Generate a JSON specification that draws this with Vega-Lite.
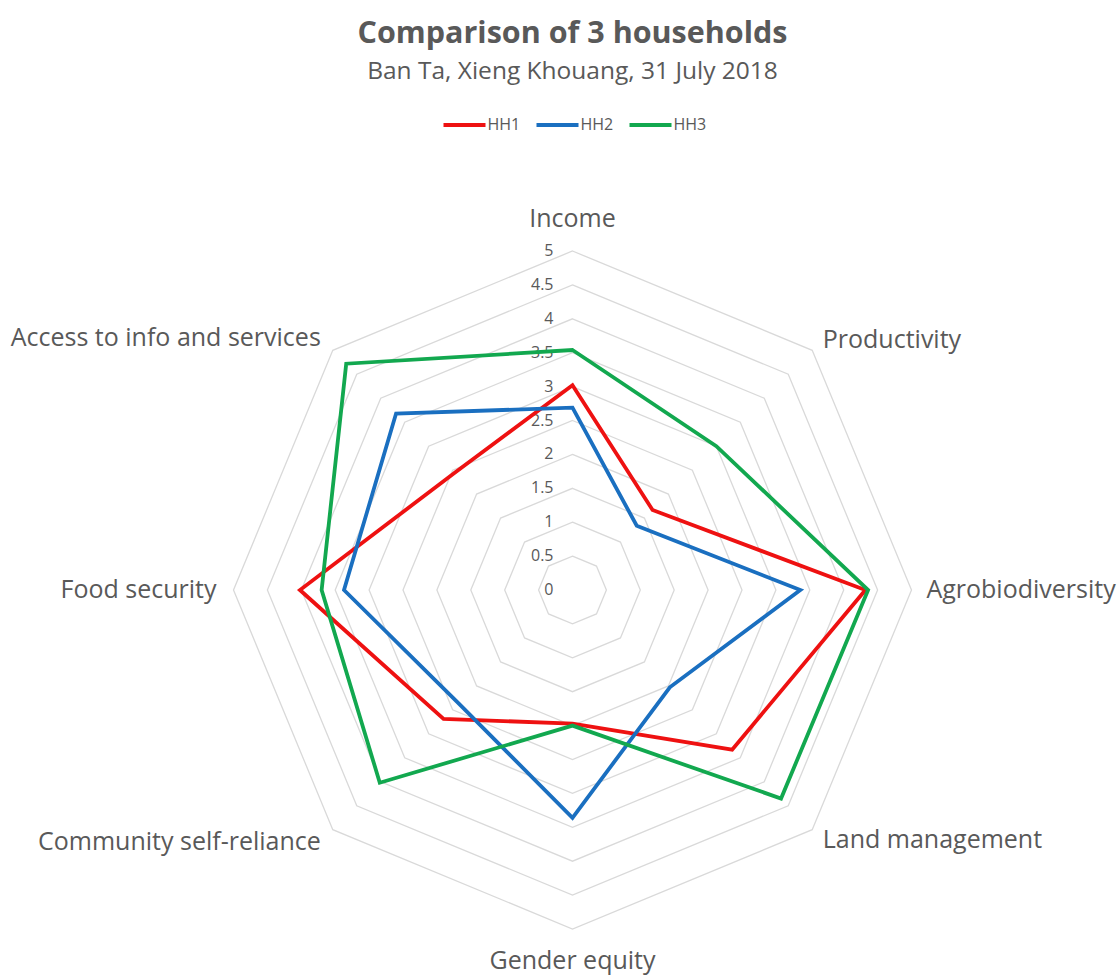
{
  "$schema": "https://vega.github.io/schema/vega-lite/v6.json",
  "width": 678,
  "height": 678,
  "autosize": {"type": "none"},
  "padding": {"left": 233.5, "top": 251, "right": 207.5, "bottom": 47},
  "background": "white",
  "config": {"view": {"stroke": null}, "font": "Open Sans"},
  "title": {
    "text": "Comparison of 3 households",
    "subtitle": "Ban Ta, Xieng Khouang, 31 July 2018",
    "font": "Open Sans",
    "subtitleFont": "Open Sans",
    "fontSize": 30.5,
    "fontWeight": "bold",
    "color": "#595959",
    "subtitleFontSize": 24.5,
    "subtitleColor": "#595959",
    "subtitlePadding": 10.5,
    "anchor": "middle",
    "frame": "group",
    "offset": 18.5
  },
  "datasets": {
    "scores": [
      {"household": "HH1", "category": "Income", "idx": 0, "value": 3.02},
      {"household": "HH1", "category": "Productivity", "idx": 1, "value": 1.67},
      {"household": "HH1", "category": "Agrobiodiversity", "idx": 2, "value": 4.32},
      {"household": "HH1", "category": "Land management", "idx": 3, "value": 3.33},
      {"household": "HH1", "category": "Gender equity", "idx": 4, "value": 1.97},
      {"household": "HH1", "category": "Community self-reliance", "idx": 5, "value": 2.69},
      {"household": "HH1", "category": "Food security", "idx": 6, "value": 4.02},
      {"household": "HH1", "category": "Access to info and services", "idx": 7, "value": 2.45},
      {"household": "HH2", "category": "Income", "idx": 0, "value": 2.69},
      {"household": "HH2", "category": "Productivity", "idx": 1, "value": 1.34},
      {"household": "HH2", "category": "Agrobiodiversity", "idx": 2, "value": 3.36},
      {"household": "HH2", "category": "Land management", "idx": 3, "value": 2.03},
      {"household": "HH2", "category": "Gender equity", "idx": 4, "value": 3.36},
      {"household": "HH2", "category": "Community self-reliance", "idx": 5, "value": 2.37},
      {"household": "HH2", "category": "Food security", "idx": 6, "value": 3.37},
      {"household": "HH2", "category": "Access to info and services", "idx": 7, "value": 3.68},
      {"household": "HH3", "category": "Income", "idx": 0, "value": 3.54},
      {"household": "HH3", "category": "Productivity", "idx": 1, "value": 3.0},
      {"household": "HH3", "category": "Agrobiodiversity", "idx": 2, "value": 4.36},
      {"household": "HH3", "category": "Land management", "idx": 3, "value": 4.35},
      {"household": "HH3", "category": "Gender equity", "idx": 4, "value": 2.0},
      {"household": "HH3", "category": "Community self-reliance", "idx": 5, "value": 4.02},
      {"household": "HH3", "category": "Food security", "idx": 6, "value": 3.7},
      {"household": "HH3", "category": "Access to info and services", "idx": 7, "value": 4.72}
    ],
    "rings": [
      {"ring": 0, "k": [0, 1, 2, 3, 4, 5, 6, 7]},
      {"ring": 0.5, "k": [0, 1, 2, 3, 4, 5, 6, 7]},
      {"ring": 1, "k": [0, 1, 2, 3, 4, 5, 6, 7]},
      {"ring": 1.5, "k": [0, 1, 2, 3, 4, 5, 6, 7]},
      {"ring": 2, "k": [0, 1, 2, 3, 4, 5, 6, 7]},
      {"ring": 2.5, "k": [0, 1, 2, 3, 4, 5, 6, 7]},
      {"ring": 3, "k": [0, 1, 2, 3, 4, 5, 6, 7]},
      {"ring": 3.5, "k": [0, 1, 2, 3, 4, 5, 6, 7]},
      {"ring": 4, "k": [0, 1, 2, 3, 4, 5, 6, 7]},
      {"ring": 4.5, "k": [0, 1, 2, 3, 4, 5, 6, 7]},
      {"ring": 5, "k": [0, 1, 2, 3, 4, 5, 6, 7]}
    ],
    "categories": [
      {"category": "Income", "idx": 0},
      {"category": "Productivity", "idx": 1},
      {"category": "Agrobiodiversity", "idx": 2},
      {"category": "Land management", "idx": 3},
      {"category": "Gender equity", "idx": 4},
      {"category": "Community self-reliance", "idx": 5},
      {"category": "Food security", "idx": 6},
      {"category": "Access to info and services", "idx": 7}
    ]
  },
  "layer": [
    {
      "data": {"name": "rings"},
      "transform": [
        {"filter": "datum.ring > 0"},
        {"flatten": ["k"]},
        {"calculate": "datum.ring * sin(datum.k * PI / 4)", "as": "px"},
        {"calculate": "datum.ring * cos(datum.k * PI / 4)", "as": "py"}
      ],
      "mark": {"type": "line", "interpolate": "linear-closed", "stroke": "#d9d9d9", "strokeWidth": 1.3},
      "encoding": {
        "x": {"field": "px", "type": "quantitative", "scale": {"domain": [-5, 5], "nice": false, "zero": false}, "axis": null},
        "y": {"field": "py", "type": "quantitative", "scale": {"domain": [-5, 5], "nice": false, "zero": false}, "axis": null},
        "detail": {"field": "ring"},
        "order": {"field": "k"}
      }
    },
    {
      "data": {"name": "rings"},
      "transform": [
        {"calculate": "0", "as": "px"}
      ],
      "mark": {"type": "text", "align": "right", "baseline": "middle", "dx": -19, "fontSize": 16, "color": "#595959"},
      "encoding": {
        "x": {"field": "px", "type": "quantitative"},
        "y": {"field": "ring", "type": "quantitative"},
        "text": {"field": "ring", "type": "quantitative"}
      }
    },
    {
      "data": {"name": "scores"},
      "transform": [
        {"calculate": "datum.value * sin(datum.idx * PI / 4)", "as": "px"},
        {"calculate": "datum.value * cos(datum.idx * PI / 4)", "as": "py"}
      ],
      "mark": {"type": "line", "interpolate": "linear-closed", "strokeWidth": 3.8, "strokeJoin": "miter"},
      "encoding": {
        "x": {"field": "px", "type": "quantitative"},
        "y": {"field": "py", "type": "quantitative"},
        "order": {"field": "idx"},
        "color": {
          "field": "household",
          "type": "nominal",
          "scale": {"domain": ["HH1", "HH2", "HH3"], "range": ["#ee1111", "#1a6fc0", "#12a84f"]},
          "legend": {
            "orient": "none",
            "legendX": 208,
            "legendY": -149,
            "direction": "horizontal",
            "title": null,
            "symbolType": "stroke",
            "symbolSize": 1764,
            "symbolStrokeWidth": 3.8,
            "labelFontSize": 16,
            "labelColor": "#595959",
            "labelOffset": 0,
            "columnPadding": 8
          }
        }
      }
    },
    {
      "data": {"name": "categories"},
      "transform": [
        {"filter": "datum.idx == 0 || datum.idx == 4"},
        {"calculate": "5.47 * sin(datum.idx * PI / 4)", "as": "px"},
        {"calculate": "5.47 * cos(datum.idx * PI / 4)", "as": "py"}
      ],
      "mark": {"type": "text", "align": "center", "baseline": "middle", "fontSize": 25, "color": "#595959"},
      "encoding": {
        "x": {"field": "px", "type": "quantitative"},
        "y": {"field": "py", "type": "quantitative"},
        "text": {"field": "category"}
      }
    },
    {
      "data": {"name": "categories"},
      "transform": [
        {"filter": "datum.idx >= 1 && datum.idx <= 3"},
        {"calculate": "5.22 * sin(datum.idx * PI / 4)", "as": "px"},
        {"calculate": "5.22 * cos(datum.idx * PI / 4)", "as": "py"}
      ],
      "mark": {"type": "text", "align": "left", "baseline": "middle", "fontSize": 25, "color": "#595959"},
      "encoding": {
        "x": {"field": "px", "type": "quantitative"},
        "y": {"field": "py", "type": "quantitative"},
        "text": {"field": "category"}
      }
    },
    {
      "data": {"name": "categories"},
      "transform": [
        {"filter": "datum.idx >= 5"},
        {"calculate": "5.25 * sin(datum.idx * PI / 4)", "as": "px"},
        {"calculate": "5.25 * cos(datum.idx * PI / 4)", "as": "py"}
      ],
      "mark": {"type": "text", "align": "right", "baseline": "middle", "fontSize": 25, "color": "#595959"},
      "encoding": {
        "x": {"field": "px", "type": "quantitative"},
        "y": {"field": "py", "type": "quantitative"},
        "text": {"field": "category"}
      }
    }
  ]
}
